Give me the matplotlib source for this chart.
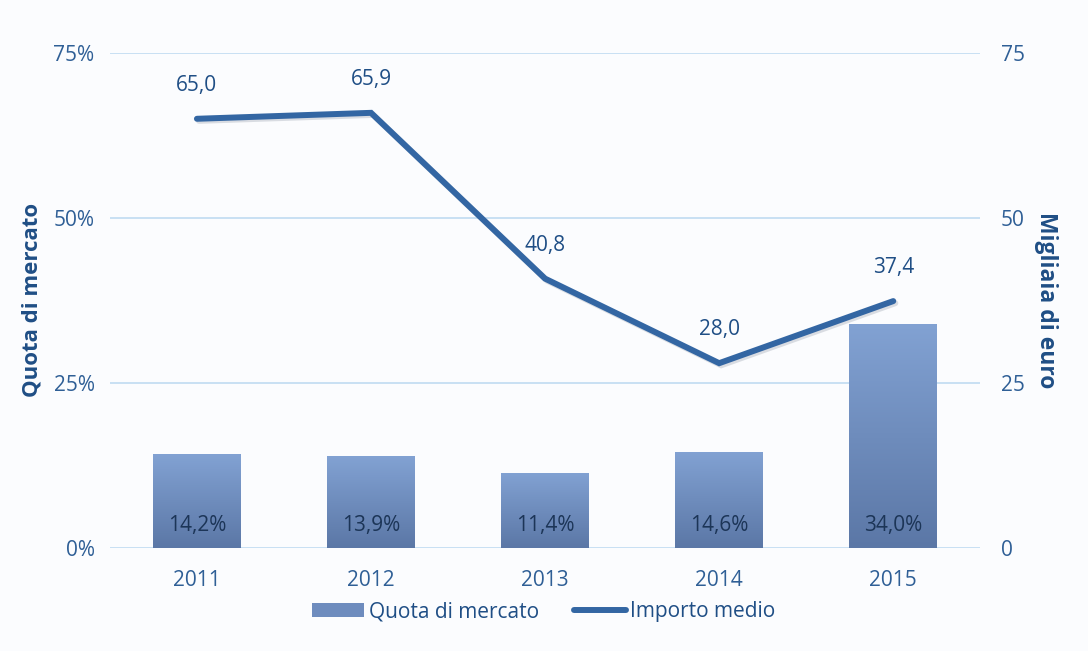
import matplotlib.pyplot as plt
import matplotlib.patheffects as pe
import numpy as np
from matplotlib.patches import Rectangle
from matplotlib.lines import Line2D
from matplotlib.colors import LinearSegmentedColormap

years = ["2011", "2012", "2013", "2014", "2015"]
quota = [14.2, 13.9, 11.4, 14.6, 34.0]
importo = [65.0, 65.9, 40.8, 28.0, 37.4]
quota_labels = ["14,2%", "13,9%", "11,4%", "14,6%", "34,0%"]
importo_labels = ["65,0", "65,9", "40,8", "28,0", "37,4"]

plt.rcParams['font.family'] = ['Open Sans', 'DejaVu Sans']

bg = "#fbfcfe"
tick_col = "#2f5f96"
title_col = "#1f4e85"
line_col = "#3366a3"
grid_col = "#c4ddf2"
bar_cmap = LinearSegmentedColormap.from_list("bars", ["#5b77a6", "#82a2d3"])
fs = 15

fig = plt.figure(figsize=(10.88, 6.51), dpi=100, facecolor=bg)
ax = fig.add_axes([0.101, 0.158, 0.800, 0.761])
ax.set_facecolor(bg)
ax2 = ax.twinx()

x = np.arange(len(years))
bars = ax.bar(x, quota, width=0.505, color="none", edgecolor="none", zorder=3)
grad = np.linspace(0, 1, 256).reshape(-1, 1)
for b in bars:
    im = ax.imshow(grad, cmap=bar_cmap, aspect="auto", origin="lower",
                   extent=[b.get_x(), b.get_x() + b.get_width(), 0, b.get_height()],
                   zorder=3)
    im.set_clip_path(b)

for xi, lab in zip(x, quota_labels):
    ax.text(xi, 3.4, lab, ha="center", va="center", fontsize=fs,
            color="#1c3557", zorder=5)

ax.set_xlim(-0.5, len(years) - 0.5)
ax.set_ylim(0, 75)
ax.set_yticks([0, 25, 50, 75])
ax.set_yticklabels(["0%", "25%", "50%", "75%"])
ax.set_xticks(x)
ax.set_xticklabels(years)
ax.grid(axis="y", color=grid_col, linewidth=1.3, zorder=0)
ax.set_axisbelow(True)

ax2.plot(x, importo, color=line_col, linewidth=4.3, solid_joinstyle="miter",
         solid_capstyle="round", zorder=4,
         path_effects=[pe.SimpleLineShadow(offset=(1.5, -1.5), shadow_color="#9aa3b0", alpha=0.35),
                       pe.Normal()])
for xi, v, lab in zip(x, importo, importo_labels):
    ax2.annotate(lab, (xi, v), xytext=(0, 24), textcoords="offset points",
                 ha="center", va="center", fontsize=fs, color=title_col)
ax2.set_ylim(0, 75)
ax2.set_yticks([0, 25, 50, 75])

for a in (ax, ax2):
    for s in a.spines.values():
        s.set_visible(False)
    a.tick_params(length=0, labelsize=fs, labelcolor=tick_col)
ax.tick_params(axis="y", pad=11)
ax.tick_params(axis="x", pad=16)
ax2.tick_params(axis="y", pad=15)

ax.set_ylabel("Quota di mercato", fontsize=16, fontweight="bold", color=title_col, labelpad=8)
ax2.set_ylabel("Migliaia di euro", fontsize=16.5, fontweight="bold", color=title_col,
               rotation=-90, labelpad=24)

handles = [Rectangle((0, 0), 1, 1, facecolor="#6e8cbe", edgecolor="none"),
           Line2D([0], [0], color=line_col, linewidth=4.3, solid_capstyle="round")]
fig.legend(handles, ["Quota di mercato", "Importo medio"], loc="center",
           bbox_to_anchor=(0.5, 0.06), ncol=2, frameon=False, fontsize=fs,
           labelcolor=title_col, handlelength=2.5, handletextpad=0.2, columnspacing=1.7)

fig.savefig("out.png", dpi=100, facecolor=bg)
